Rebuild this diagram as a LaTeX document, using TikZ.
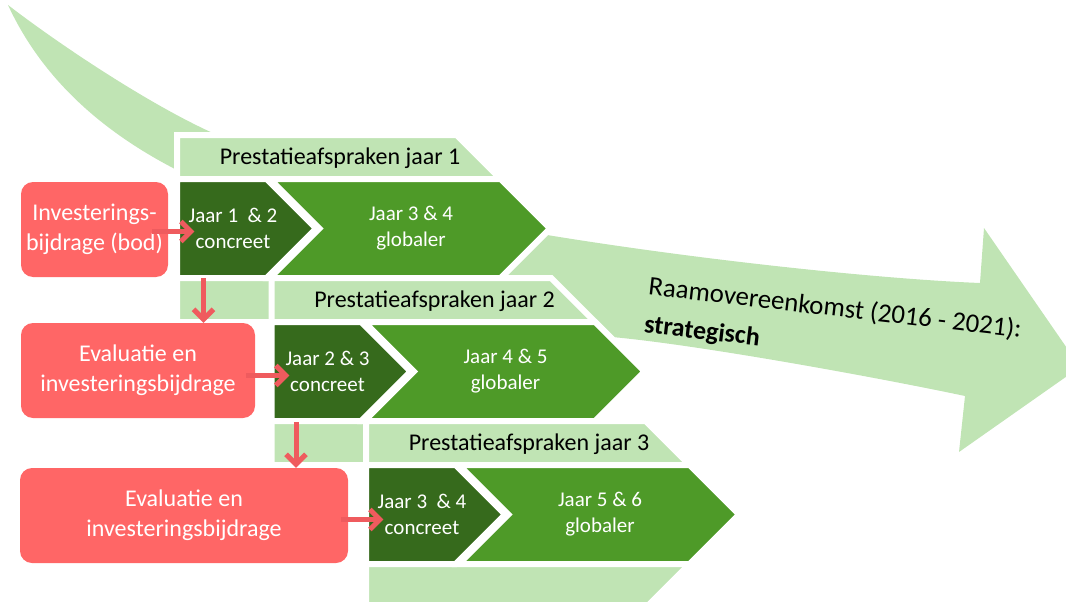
\documentclass[tikz,border=0pt]{standalone}
\usepackage{fontspec}
\setmainfont{Carlito}
\usetikzlibrary{arrows.meta,positioning,calc}
\definecolor{PaleGreen}{HTML}{C0E4B4}
\definecolor{LeafGreen}{HTML}{4E9A28}
\definecolor{ForestGreen}{HTML}{366A1C}
\definecolor{CoralRed}{HTML}{FF6666}
\definecolor{ArrowRed}{HTML}{EF5B5E}
\tikzset{
  band/.style={fill=PaleGreen},
  pent/.style={fill=PaleGreen,draw=white,line width=6pt},
  chevD/.style={fill=ForestGreen,draw=white,line width=6pt},
  chevM/.style={fill=LeafGreen,draw=white,line width=6pt},
  hdr/.style={font=\fontsize{24}{30}\selectfont,text=black,inner sep=0pt},
  chtxt/.style={font=\fontsize{21}{26}\selectfont,text=white,align=center,inner sep=0pt},
  rbox/.style={rectangle,rounded corners=12pt,fill=CoralRed,text=white,align=center,
               minimum height=95pt,inner sep=0pt,font=\fontsize{24}{30}\selectfont},
  rarr/.style={-{Straight Barb[length=10pt,width=20pt]},line width=5pt,draw=ArrowRed}
}

\begin{document}
\begin{tikzpicture}[x=1pt,y=-1pt]
  \useasboundingbox (0,0) rectangle (1066,602);

  % big curved arrow behind everything
  \fill[band] (8,5) .. controls (60,45) and (150,105) .. (215,134)
    .. controls (330,185) and (430,222) .. (547,235)
    .. controls (700,260) and (880,279) .. (980,283)
    -- (984,228) -- (1080,367) -- (959,452) -- (965,396)
    .. controls (880,378) and (700,345) .. (612,337)
    .. controls (450,300) and (280,230) .. (173,168)
    .. controls (110,135) and (45,85) .. (8,5) -- cycle;
  \node[align=left,rotate=-6.6,anchor=north west,inner sep=0pt,
        font=\fontsize{26}{38}\selectfont] (raam) at (650,275)
    {{\fontsize{26.8}{38}\selectfont Raamovereenkomst (2016 - 2021):}\\
     \textbf{strategisch}};

  % row 1
  \path[pent] (177,135) -- ++(279.7,0) -- ++(93.5,93.5) -- ++(-93.5,93.5) -- ++(-279.7,0) -- cycle;
  \path[chevD] (177,179) -- ++(89.7,0) -- ++(49.5,49.5) -- ++(-49.5,49.5) -- ++(-89.7,0) -- cycle;
  \path[chevM] (269.8,179) -- ++(230.9,0) -- ++(49.5,49.5) -- ++(-49.5,49.5) -- ++(-230.9,0) -- ++(49.5,-49.5) -- cycle;
  \node[hdr] (hd1) at (340,158) {Prestatieafspraken jaar 1};
  \node[chtxt] (dk1) at (233,228.5) {Jaar 1~ \& 2\\concreet};
  \node[chtxt] (md1) at (411,228.5) {Jaar 3 \& 4\\globaler};

  % row 2
  \path[pent] (271.5,278) -- ++(279.7,0) -- ++(93.5,93.5) -- ++(-93.5,93.5) -- ++(-279.7,0) -- cycle;
  \path[chevD] (271.5,322) -- ++(89.7,0) -- ++(49.5,49.5) -- ++(-49.5,49.5) -- ++(-89.7,0) -- cycle;
  \path[chevM] (364.3,322) -- ++(230.9,0) -- ++(49.5,49.5) -- ++(-49.5,49.5) -- ++(-230.9,0) -- ++(49.5,-49.5) -- cycle;
  \node[hdr] (hd2) at (434.5,301) {Prestatieafspraken jaar 2};
  \node[chtxt] (dk2) at (327.5,371.5) {Jaar 2 \& 3\\concreet};
  \node[chtxt] (md2) at (505.5,371.5) {Jaar 4 \& 5\\globaler};

  % row 3
  \path[pent] (366,421) -- ++(279.7,0) -- ++(93.5,93.5) -- ++(-93.5,93.5) -- ++(-279.7,0) -- cycle;
  \path[chevD] (366,465) -- ++(89.7,0) -- ++(49.5,49.5) -- ++(-49.5,49.5) -- ++(-89.7,0) -- cycle;
  \path[chevM] (458.8,465) -- ++(230.9,0) -- ++(49.5,49.5) -- ++(-49.5,49.5) -- ++(-230.9,0) -- ++(49.5,-49.5) -- cycle;
  \node[hdr] (hd3) at (529,444) {Prestatieafspraken jaar 3};
  \node[chtxt] (dk3) at (422,514.5) {Jaar 3~ \& 4\\concreet};
  \node[chtxt] (md3) at (600,514.5) {Jaar 5 \& 6\\globaler};

  % red boxes
  \node[rbox,minimum width=147pt] (inv1) at (94.5,229.5) {Investerings-\\bijdrage (bod)};
  \node[rbox,minimum width=234pt] (ev2) at (138,370.5) {Evaluatie en\\investeringsbijdrage};
  \node[rbox,minimum width=328pt] (ev3) at (184,515.5) {Evaluatie en\\investeringsbijdrage};

  \coordinate (a1) at ([xshift=-16pt,yshift=-2pt]inv1.east);
  \coordinate (a2) at ([xshift=-9pt,yshift=-5pt]ev2.east);
  \coordinate (a3) at ([xshift=-7pt,yshift=-4pt]ev3.east);
  \coordinate (v1) at (203.5,278);
  \coordinate (v2) at (296,422);
  \draw[rarr,shorten >=-6pt] (a1) -- (a1 -| dk1.west);
  \draw[rarr,shorten >=-4pt] (a2) -- (a2 -| dk2.west);
  \draw[rarr,shorten >=-6pt] (a3) -- (a3 -| dk3.west);
  \draw[rarr] (v1) -- (v1 |- ev2.north);
  \draw[rarr] (v2) -- (v2 |- ev3.north);
\end{tikzpicture}
\end{document}
